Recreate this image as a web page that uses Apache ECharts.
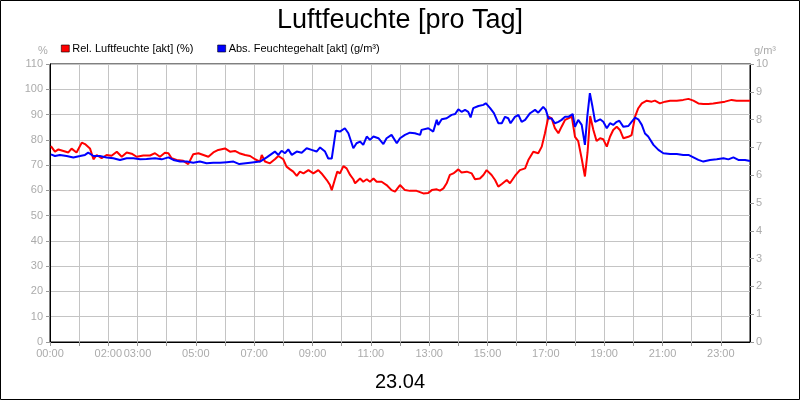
<!DOCTYPE html>
<html>
<head>
<meta charset="utf-8">
<title>Luftfeuchte</title>
<script src="https://cdn.jsdelivr.net/npm/echarts@6/dist/echarts.min.js"></script>
<style>
  html, body { margin: 0; padding: 0; background: #fff; }
  #chart { width: 800px; height: 400px; }
</style>
</head>
<body>
<div id="chart"></div>
<script>
// Rel. Luftfeuchte (%), Stunden seit 00:00
const relHours = [0.03,0.17,0.29,0.46,0.63,0.74,0.91,1.09,1.2,1.37,1.49,1.6,1.77,1.94,2.11,2.29,2.46,2.63,2.8,2.97,
  3.2,3.43,3.6,3.77,3.94,4.06,4.17,4.34,4.57,4.74,4.91,5.09,5.26,5.43,5.6,5.77,6.0,6.17,6.34,6.49,
  6.69,6.86,7.03,7.2,7.26,7.37,7.54,7.71,7.83,8.0,8.11,8.23,8.34,8.46,8.57,8.69,8.86,9.03,9.2,9.31,
  9.49,9.6,9.66,9.77,9.85,9.94,10.06,10.17,10.29,10.4,10.46,10.63,10.74,10.86,10.97,11.09,11.2,11.37,11.54,11.71,
  11.83,12.0,12.17,12.34,12.57,12.8,12.97,13.09,13.26,13.37,13.49,13.6,13.71,13.83,14.0,14.11,14.29,14.46,14.57,14.74,
  14.86,14.97,15.14,15.26,15.37,15.49,15.66,15.77,15.94,16.11,16.29,16.4,16.57,16.74,16.86,16.97,17.09,17.2,17.31,17.43,
  17.54,17.66,17.77,17.89,17.94,18.0,18.11,18.23,18.34,18.43,18.52,18.63,18.74,18.86,18.97,19.09,19.2,19.31,19.43,19.54,
  19.66,19.83,19.94,20.06,20.17,20.29,20.46,20.63,20.74,20.91,21.09,21.26,21.49,21.71,21.89,22.06,22.23,22.4,22.57,22.74,
  22.91,23.14,23.37,23.54,23.77,24.0];
const relValues = [77.5,75.3,76.2,75.6,75.0,76.5,75.0,78.9,78.3,76.6,72.3,74.0,72.7,74.0,73.7,75.3,73.3,75.0,74.5,73.3,
  73.8,73.8,74.7,73.3,74.9,74.7,72.7,72.0,71.7,70.4,74.3,74.7,74.0,73.3,75.0,76.0,76.6,75.3,75.6,74.7,
  74.0,73.6,72.3,71.4,74.0,71.4,70.7,72.3,73.6,72.3,69.4,68.3,67.4,65.7,67.4,66.7,68.0,66.7,68.0,66.7,
  64.1,62.1,60.1,64.4,67.4,66.7,69.6,68.7,66.1,64.4,62.8,64.7,63.4,64.4,63.4,64.7,63.4,63.4,62.1,60.1,
  59.5,62.1,60.1,59.8,59.8,58.8,59.0,60.1,60.4,59.9,60.8,62.8,66.1,66.7,68.3,67.1,67.4,66.7,64.4,64.7,
  66.1,68.0,66.1,64.1,61.5,62.5,64.1,62.8,65.7,68.0,68.7,72.0,75.3,74.7,77.3,82.6,89.2,88.5,84.6,82.6,
  85.2,87.9,88.5,89.2,89.0,81.2,79.5,72.5,65.5,75.0,89.4,83.9,79.5,80.6,80.2,77.3,81.2,83.9,85.2,83.9,
  80.6,81.2,81.9,89.2,92.5,94.4,95.5,95.1,95.5,94.4,95.1,95.5,95.5,95.8,96.2,95.5,94.4,94.2,94.2,94.4,
  94.7,95.1,95.8,95.5,95.5,95.5];

// Abs. Feuchtegehalt (g/m³)
const absHours = [0.03,0.17,0.34,0.57,0.8,1.03,1.2,1.31,1.49,1.71,1.94,2.17,2.4,2.63,2.86,3.09,3.31,3.6,3.83,4.06,
  4.23,4.46,4.69,4.91,5.14,5.37,5.6,5.83,6.06,6.29,6.49,6.86,7.2,7.43,7.71,7.83,7.94,8.06,8.17,8.29,
  8.46,8.63,8.8,8.97,9.14,9.26,9.43,9.54,9.66,9.8,9.94,10.11,10.23,10.4,10.51,10.63,10.74,10.86,10.97,11.09,
  11.26,11.43,11.54,11.71,11.89,12.0,12.17,12.34,12.51,12.69,12.74,12.97,13.14,13.26,13.31,13.43,13.6,13.77,13.89,14.0,
  14.11,14.23,14.34,14.42,14.51,14.69,14.86,14.94,15.09,15.22,15.37,15.49,15.6,15.71,15.79,15.94,16.06,16.17,16.29,16.46,
  16.63,16.74,16.91,17.0,17.09,17.2,17.31,17.43,17.54,17.66,17.77,17.92,18.0,18.11,18.23,18.34,18.42,18.51,18.6,18.69,
  18.86,18.97,19.09,19.2,19.31,19.43,19.52,19.66,19.83,19.94,20.06,20.17,20.29,20.4,20.51,20.69,20.86,21.03,21.26,21.49,
  21.71,21.89,22.06,22.23,22.4,22.63,22.86,23.09,23.26,23.43,23.6,23.83,24.0];
const absValues = [6.75,6.69,6.73,6.69,6.64,6.69,6.73,6.81,6.69,6.69,6.64,6.61,6.55,6.61,6.61,6.57,6.58,6.61,6.57,6.64,
  6.55,6.49,6.49,6.45,6.49,6.43,6.45,6.45,6.47,6.49,6.40,6.45,6.49,6.64,6.85,6.73,6.88,6.79,6.93,6.73,
  6.85,6.81,6.97,6.91,6.85,7.0,6.85,6.6,6.6,7.6,7.57,7.69,7.51,6.97,7.15,7.21,7.09,7.39,7.27,7.39,
  7.33,7.12,7.33,7.45,7.15,7.33,7.45,7.53,7.51,7.45,7.63,7.69,7.57,7.99,7.81,8.01,8.05,8.17,8.2,8.37,
  8.28,8.35,8.28,8.08,8.41,8.49,8.53,8.59,8.41,8.23,7.87,7.87,8.1,8.05,7.87,8.1,8.17,7.92,7.99,8.23,
  8.35,8.25,8.46,8.35,8.04,8.04,7.87,7.92,7.99,8.1,8.1,8.2,7.74,7.99,7.81,7.09,8.1,8.95,8.46,7.92,
  8.01,7.92,7.69,7.87,7.81,7.92,7.96,7.74,7.77,7.92,8.07,8.01,7.81,7.5,7.39,7.09,6.91,6.79,6.76,6.76,
  6.73,6.73,6.64,6.55,6.49,6.55,6.57,6.61,6.57,6.64,6.55,6.55,6.51];

// beschriftete Stunden auf der x-Achse
const labelHours = [0, 2, 3, 5, 7, 9, 11, 13, 15, 17, 19, 21, 23];

const FONT = '"Liberation Sans", Arial, sans-serif';
const LABEL_GREY = '#ababab';
const GRID_GREY = '#c4c4c4';

const chart = echarts.init(document.getElementById('chart'));

const pad = n => (n < 10 ? '0' : '') + n;

chart.setOption({
  animation: false,
  backgroundColor: '#fff',
  textStyle: { fontFamily: FONT },
  title: [
    {
      text: 'Luftfeuchte [pro Tag]',
      left: 'center',
      top: 2,
      textStyle: { fontSize: 27, fontWeight: 'normal', color: '#000', fontFamily: FONT }
    },
    {
      text: '23.04',
      left: 'center',
      top: 367,
      textStyle: { fontSize: 20, fontWeight: 'normal', color: '#000', fontFamily: FONT }
    }
  ],
  legend: {
    left: 56,
    top: 38,
    itemWidth: 8,
    itemHeight: 7,
    itemGap: 24,
    textStyle: { fontSize: 11, color: '#000', fontFamily: FONT, padding: [0, 0, 0, -2] },
    data: [
      { name: 'Rel. Luftfeuchte [akt] (%)', icon: 'rect', itemStyle: { color: '#ff0000', borderColor: '#000', borderWidth: 0.6 } },
      { name: 'Abs. Feuchtegehalt [akt] (g/m³)', icon: 'rect', itemStyle: { color: '#0000ff', borderColor: '#000', borderWidth: 0.6 } }
    ]
  },
  grid: {
    left: 50,
    right: 50,
    top: 64,
    bottom: 58,
    show: true,
    borderColor: '#000',
    borderWidth: 1
  },
  xAxis: {
    type: 'value',
    min: 0,
    max: 24,
    interval: 1,
    axisLine: { lineStyle: { color: '#000' } },
    axisTick: { show: true, length: 4, lineStyle: { color: '#999' } },
    axisLabel: {
      color: LABEL_GREY,
      fontSize: 11,
      margin: 6,
      showMaxLabel: false,
      formatter: v => (labelHours.indexOf(v) >= 0 ? pad(v) + ':00' : '')
    },
    splitLine: { show: true, lineStyle: { color: GRID_GREY } }
  },
  yAxis: [
    {
      type: 'value',
      min: 0,
      max: 110,
      interval: 10,
      name: '%',
      nameLocation: 'end',
      nameGap: 8,
      nameTextStyle: { color: LABEL_GREY, fontSize: 11, padding: [0, 14, 0, 0] },
      axisLine: { show: true, lineStyle: { color: '#000' } },
      axisTick: { show: true, length: 4, lineStyle: { color: '#999' } },
      axisLabel: { color: LABEL_GREY, fontSize: 11, margin: 7 },
      splitLine: { show: true, lineStyle: { color: GRID_GREY } }
    },
    {
      type: 'value',
      min: 0,
      max: 10,
      interval: 1,
      position: 'right',
      name: 'g/m³',
      nameLocation: 'end',
      nameGap: 8,
      nameTextStyle: { color: LABEL_GREY, fontSize: 11, padding: [0, 0, 0, 30] },
      axisLine: { show: true, lineStyle: { color: '#000' } },
      axisTick: { show: true, length: 4, lineStyle: { color: '#999' } },
      axisLabel: { color: LABEL_GREY, fontSize: 11, margin: 6 },
      splitLine: { show: false }
    }
  ],
  series: [
    {
      name: 'Rel. Luftfeuchte [akt] (%)',
      type: 'line',
      yAxisIndex: 0,
      showSymbol: false,
      color: '#ff0000',
      lineStyle: { width: 2, color: '#ff0000' },
      data: relHours.map((h, i) => [h, relValues[i]])
    },
    {
      name: 'Abs. Feuchtegehalt [akt] (g/m³)',
      type: 'line',
      yAxisIndex: 1,
      showSymbol: false,
      color: '#0000ff',
      lineStyle: { width: 2, color: '#0000ff' },
      data: absHours.map((h, i) => [h, absValues[i]])
    }
  ],
  graphic: [
    {
      type: 'rect',
      silent: true,
      shape: { x: 0.5, y: 0.5, width: 799, height: 399 },
      style: { fill: 'none', stroke: '#000', lineWidth: 1 }
    }
  ]
});
</script>
</body>
</html>
